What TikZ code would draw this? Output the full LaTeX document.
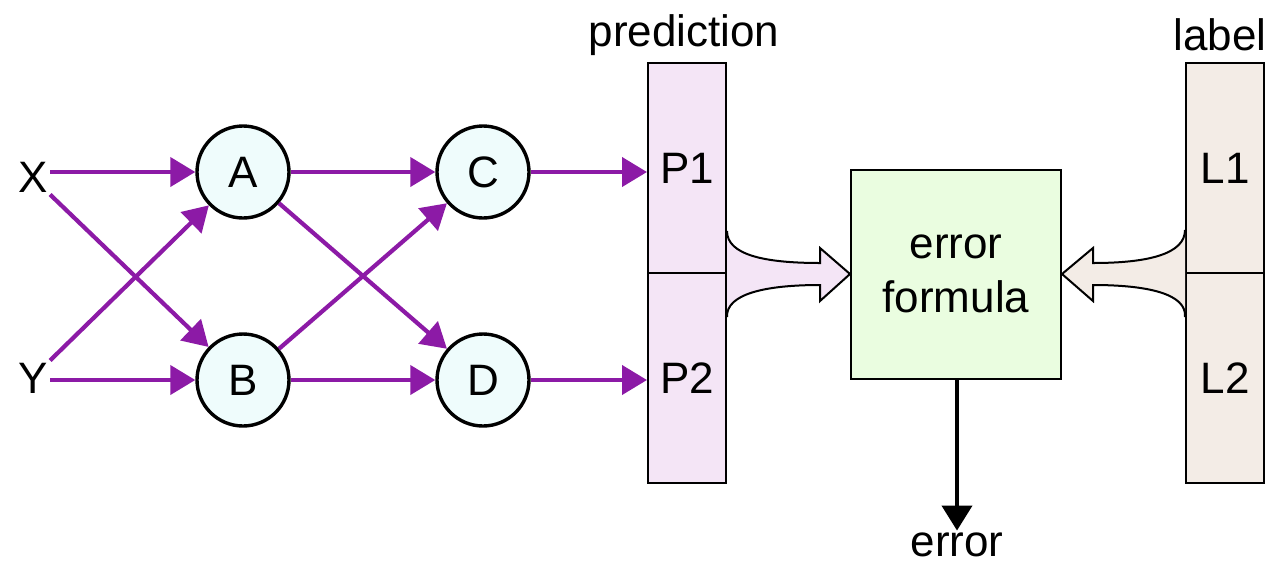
\documentclass[tikz,border=0pt]{standalone}
\usepackage{fontspec}
\setmainfont{Liberation Sans}
\usetikzlibrary{arrows.meta}

\definecolor{linkcol}{RGB}{140,26,166}
\definecolor{neuronfill}{RGB}{239,252,252}
\definecolor{predfill}{RGB}{244,229,246}
\definecolor{errfill}{RGB}{234,253,224}
\definecolor{labfill}{RGB}{243,236,230}

\begin{document}
\begin{tikzpicture}[x=0.5pt, y=-0.5pt,
  font=\fontsize{22}{25}\selectfont,
  neuron/.style={draw, circle, line width=1.7pt, fill=neuronfill, minimum size=46pt, inner sep=0pt},
  cell/.style={draw, rectangle, line width=1pt, minimum width=39pt, minimum height=105pt, inner sep=0pt},
  link/.style={draw=linkcol, line width=2.1pt, -{Triangle[length=12.5pt,width=14.5pt]}},
  fat/.style={draw, line width=1pt, line join=miter}]
\useasboundingbox (0,0) rectangle (1271,564);

% inputs
\node[inner sep=1pt] (X) at (33,177){X};
\node[inner sep=1pt] (Y) at (33,378){Y};

% hidden layers
\node[neuron] (A) at (243,172){A};
\node[neuron] (B) at (243,380){B};
\node[neuron] (C) at (483,172){C};
\node[neuron] (D) at (483,380){D};

% prediction column
\node[cell, fill=predfill] (P1) at (687,168){P1};
\node[cell, fill=predfill] (P2) at (687,378){P2};
\node (predtxt) at (684,35){prediction};

% label column
\node[cell, fill=labfill] (L1) at (1225,168){L1};
\node[cell, fill=labfill] (L2) at (1225,378){L2};
\node (labtxt) at (1220,35){label};

% error box
\node[draw, rectangle, line width=1pt, fill=errfill, minimum width=105pt, minimum height=104.5pt,
  align=center, font=\fontsize{22}{27}\selectfont] (F) at (956,274){error\\formula};
\node[inner sep=1pt] (E) at (957,545){error};

% connections
\draw[link] (X.east |- A) -- (A);
\draw[link] (X.south east) -- (B);
\draw[link] (Y.north east) -- (A);
\draw[link] (Y.east |- B) -- (B);
\draw[link] (A) -- (C);
\draw[link] (A) -- (D);
\draw[link] (B) -- (C);
\draw[link] (B) -- (D);
\draw[link] (C) -- (C -| P1.west);
\draw[link] (D) -- (D -| P2.west);

% merge arrows into the box
\path[fat, fill=predfill] ([yshift=21.5pt]P1.south east)
  .. controls +(0,24) and (765,263) .. (820,263) -- (820,248) -- (F.west)
  -- (820,301) -- (820,285) .. controls (765,285) and (726,294) .. ([yshift=-22.5pt]P2.north east);
\path[fat, fill=labfill] ([yshift=22pt]L1.south west)
  .. controls +(0,24) and (1148,263) .. (1093,263) -- (1093,248) -- (F.east)
  -- (1093,301) -- (1093,285) .. controls (1148,285) and (1187,294) .. ([yshift=-22.5pt]L2.north west);

\draw[line width=2pt, -{Triangle[length=12.5pt,width=15pt]}] (F.south -| E) -- (E.north);
\end{tikzpicture}
\end{document}
